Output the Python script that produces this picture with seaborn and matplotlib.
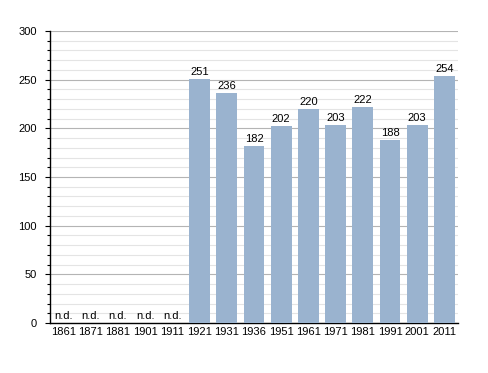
import matplotlib
matplotlib.use("Agg")
import numpy as np
import pandas as pd
import seaborn as sns
import matplotlib.pyplot as plt
from matplotlib.ticker import MultipleLocator

years = ["1861", "1871", "1881", "1901", "1911", "1921", "1931", "1936",
         "1951", "1961", "1971", "1981", "1991", "2001", "2011"]
population = [np.nan, np.nan, np.nan, np.nan, np.nan, 251, 236, 182,
              202, 220, 203, 222, 188, 203, 254]

df = pd.DataFrame({"year": years, "pop": population})

sns.set_theme(style="white")
plt.rcParams["font.family"] = ["Liberation Sans", "DejaVu Sans"]
plt.rcParams["text.color"] = "black"
plt.rcParams["xtick.color"] = "black"
plt.rcParams["ytick.color"] = "black"

fig = plt.figure(figsize=(4.88, 3.73), dpi=100)
ax = fig.add_axes([0.1025, 0.134, 0.836, 0.783])

sns.barplot(data=df, x="year", y="pop", color="#9ab3cf", saturation=1,
            width=0.77, edgecolor="none", linewidth=0, ax=ax, zorder=3)

ax.set_ylim(0, 300)
ax.set_xlim(-0.5, len(years) - 0.5)
ax.yaxis.set_major_locator(MultipleLocator(50))
ax.yaxis.set_minor_locator(MultipleLocator(10))
ax.grid(which="major", axis="y", color="#b4b4b4", linewidth=0.8, zorder=0)
ax.grid(which="minor", axis="y", color="#e4e4e4", linewidth=0.8, zorder=0)
ax.set_axisbelow(True)

for s in ["top", "right"]:
    ax.spines[s].set_visible(False)
for s in ["left", "bottom"]:
    ax.spines[s].set_color("black")
    ax.spines[s].set_linewidth(1.0)

ax.tick_params(axis="y", which="major", length=3.6, width=0.8, color="black",
               labelsize=8, left=True, pad=6, labelcolor="black")
ax.tick_params(axis="y", which="minor", length=2.2, width=0.8, color="black", left=True)
ax.tick_params(axis="x", length=0, labelsize=8, pad=3, labelcolor="black")
ax.set_xlabel("")
ax.set_ylabel("")

for i, v in enumerate(population):
    if np.isnan(v):
        ax.text(i, 2, "n.d.", ha="center", va="bottom", fontsize=8, color="black", zorder=4)
    else:
        ax.text(i, v + 2, f"{int(v)}", ha="center", va="bottom", fontsize=8,
                color="black", zorder=4)

fig.savefig("out.png", dpi=100)
